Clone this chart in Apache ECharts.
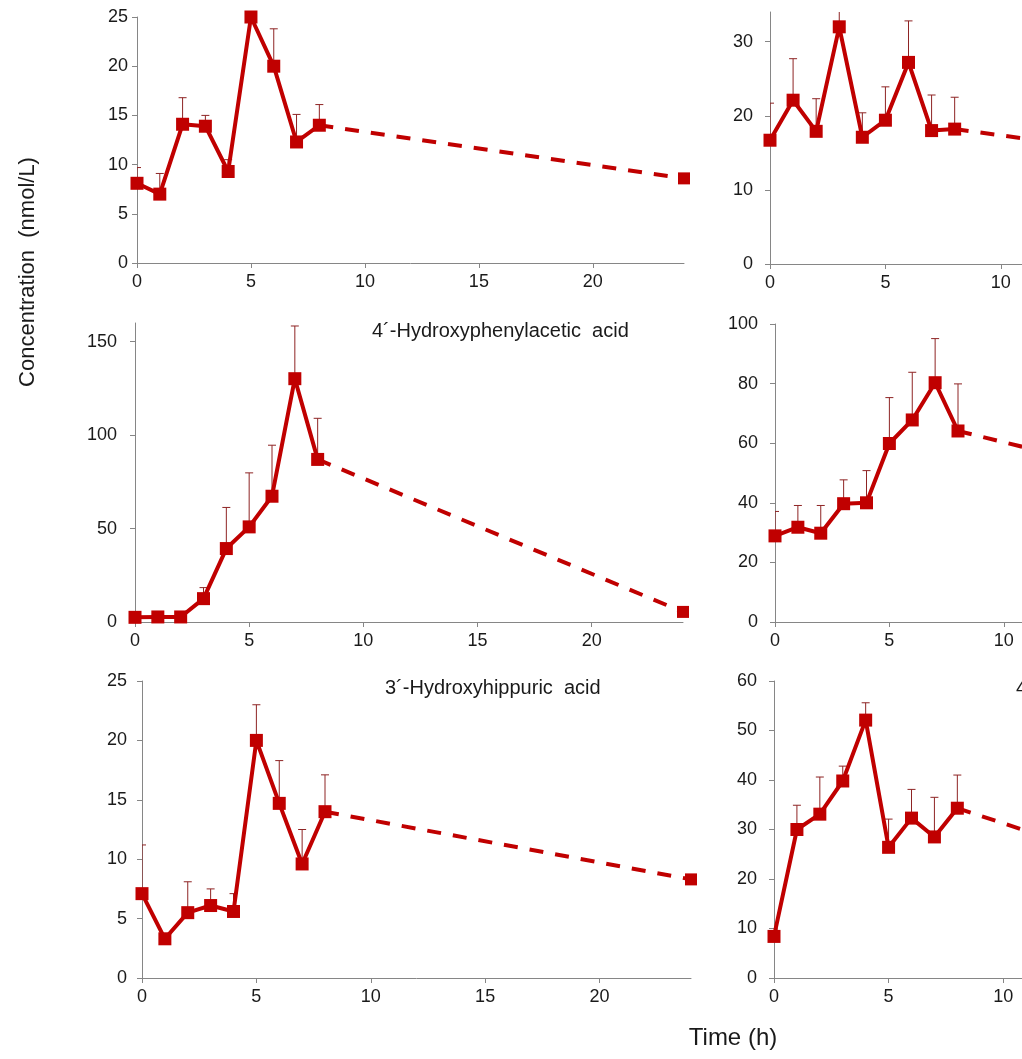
<!DOCTYPE html>
<html lang="en">
<head>
<meta charset="UTF-8">
<title>Concentration (nmol/L) vs Time (h)</title>
<style>
    html, body { margin: 0; padding: 0; background: #fff; }
    #main { width: 1022px; height: 1059px; }
</style>
</head>
<body>
<div id="main"></div>
<script src="https://cdn.jsdelivr.net/npm/echarts@6.0.0/dist/echarts.min.js"></script>
<script>
    // sampling times (h) and tick labels
    var hours = [0, 1, 2, 3, 4, 5, 6, 7, 8];
    var lastHour = 24;
    var xTicks = [0, 5, 10, 15, 20];

    // top left
    var meanTL = [8.1, 7.0, 14.1, 13.9, 9.3, 25.0, 20.0, 12.3, 14.0];
    var upperTL = [9.7, 9.1, 16.8, 15.0, 10.5, 27.0, 23.8, 15.1, 16.1];
    var lastTL = 8.6;
    var yTicksTL = [0, 5, 10, 15, 20, 25];

    // top right
    var meanTR = [16.7, 22.1, 17.9, 32.0, 17.1, 19.4, 27.2, 18.0, 18.2];
    var upperTR = [21.7, 27.7, 22.3, 36.0, 20.4, 23.9, 32.8, 22.8, 22.5];
    var lastTR = 11.5;
    var yTicksTR = [0, 10, 20, 30];

    // middle left: 4'-hydroxyphenylacetic acid
    var meanML = [2.5, 2.7, 2.7, 12.5, 39.3, 50.9, 67.3, 130.2, 87.0];
    var upperML = [2.5, 2.7, 2.7, 18.4, 61.3, 79.8, 94.6, 158.4, 109.0];
    var lastML = 5.4;
    var yTicksML = [0, 50, 100, 150];

    // middle right
    var meanMR = [28.9, 31.8, 29.8, 39.7, 40.0, 59.9, 67.8, 80.3, 64.1];
    var upperMR = [37.1, 39.1, 39.1, 47.7, 50.8, 75.3, 83.8, 95.1, 79.9];
    var lastMR = 34;
    var yTicksMR = [0, 20, 40, 60, 80, 100];

    // bottom left: 3'-hydroxyhippuric acid
    var meanBL = [7.1, 3.3, 5.5, 6.1, 5.6, 20.0, 14.7, 9.6, 14.0];
    var upperBL = [11.2, 3.3, 8.1, 7.5, 7.1, 23.0, 18.3, 12.5, 17.1];
    var lastBL = 8.3;
    var yTicksBL = [0, 5, 10, 15, 20, 25];

    // bottom right
    var meanBR = [8.4, 30.0, 33.1, 39.8, 52.1, 26.4, 32.3, 28.5, 34.3];
    var upperBR = [9.9, 34.9, 40.6, 42.8, 55.6, 32.1, 38.1, 36.5, 41.0];
    var lastBR = 10;
    var yTicksBR = [0, 10, 20, 30, 40, 50, 60];

    var titles = ['', '', '4´-Hydroxyphenylacetic  acid', '', '3´-Hydroxyhippuric  acid', '4´-Hydroxyhippuric  acid'];

    // layout of the six panels (right column runs past the edge of the page)
    var panels = [
        { mean: meanTL, upper: upperTL, last: lastTL, yTicks: yTicksTL, ymax: 25, left: 137, top: 17, width: 547, height: 246, gap: 9 },
        { mean: meanTR, upper: upperTR, last: lastTR, yTicks: yTicksTR, ymax: 34, left: 770, top: 12, width: 554, height: 252, gap: 17 },
        { mean: meanML, upper: upperML, last: lastML, yTicks: yTicksML, ymax: 160, left: 135, top: 323, width: 548, height: 299, gap: 18 },
        { mean: meanMR, upper: upperMR, last: lastMR, yTicks: yTicksMR, ymax: 100, left: 775, top: 324, width: 549, height: 298, gap: 17 },
        { mean: meanBL, upper: upperBL, last: lastBL, yTicks: yTicksBL, ymax: 25, left: 142, top: 681, width: 549, height: 297, gap: 15 },
        { mean: meanBR, upper: upperBR, last: lastBR, yTicks: yTicksBR, ymax: 60, left: 774, top: 681, width: 550, height: 297, gap: 17 }
    ];
    var titlePos = [null, null, [372, 331], null, [385, 688], [1016, 688]];

    var red = '#c00000';
    var errColor = '#8e2424';
    var axisColor = '#868686';
    var textColor = '#1a1a1a';
    var font = 'Liberation Sans, Arial, sans-serif';

    // upper error bar with a small cap
    function errorBar(params, api) {
        var p0 = api.coord([api.value(0), api.value(1)]);
        var p1 = api.coord([api.value(0), api.value(2)]);
        var cap = 4;
        return {
            type: 'group',
            children: [
                { type: 'line', shape: { x1: p0[0], y1: p0[1], x2: p1[0], y2: p1[1] }, style: { stroke: errColor, lineWidth: 1 } },
                { type: 'line', shape: { x1: p1[0] - cap, y1: p1[1], x2: p1[0] + cap, y2: p1[1] }, style: { stroke: errColor, lineWidth: 1 } }
            ]
        };
    }

    var grids = [], xAxes = [], yAxes = [], series = [], graphics = [];

    panels.forEach(function (p, i) {
        grids.push({ left: p.left, top: p.top, width: p.width, height: p.height, containLabel: false, outerBoundsMode: 'none' });
        xAxes.push({
            type: 'value', gridIndex: i, min: 0, max: lastHour,
            axisLine: { lineStyle: { color: axisColor, width: 1 } },
            axisTick: { length: 5, lineStyle: { color: axisColor }, customValues: xTicks },
            axisLabel: { customValues: xTicks, color: textColor, fontSize: 18, fontFamily: font, margin: 10 },
            splitLine: { show: false }
        });
        yAxes.push({
            type: 'value', gridIndex: i, min: 0, max: p.ymax,
            axisLine: { show: true, lineStyle: { color: axisColor, width: 1 } },
            axisTick: { show: true, length: 5, lineStyle: { color: axisColor }, customValues: p.yTicks },
            axisLabel: { customValues: p.yTicks, color: textColor, fontSize: 18, fontFamily: font, margin: p.gap },
            splitLine: { show: false }
        });

        series.push({
            type: 'custom', xAxisIndex: i, yAxisIndex: i, clip: true, z: 1,
            renderItem: errorBar,
            data: hours.map(function (h, k) { return [h, p.mean[k], p.upper[k]]; })
        });
        series.push({
            type: 'line', xAxisIndex: i, yAxisIndex: i, z: 2,
            symbol: 'rect', symbolSize: 12,
            itemStyle: { color: red },
            lineStyle: { color: red, width: 4, type: [14, 12] },
            data: [
                { value: [hours[8], p.mean[8]], symbol: 'none' },
                { value: [lastHour, p.last] }
            ]
        });
        series.push({
            type: 'line', xAxisIndex: i, yAxisIndex: i, z: 3,
            symbol: 'rect', symbolSize: 13,
            itemStyle: { color: red },
            lineStyle: { color: red, width: 4 },
            data: hours.map(function (h, k) { return [h, p.mean[k]]; })
        });

        if (titlePos[i]) {
            graphics.push({
                type: 'text', x: titlePos[i][0], y: titlePos[i][1],
                style: { text: titles[i], fill: textColor, font: '20px ' + font, verticalAlign: 'middle' }
            });
        }
    });

    graphics.push({
        type: 'text', x: 28, y: 272, rotation: Math.PI / 2,
        style: { text: 'Concentration  (nmol/L)', fill: textColor, font: '22px ' + font, align: 'center', verticalAlign: 'middle' }
    });
    graphics.push({
        type: 'text', x: 733, y: 1038,
        style: { text: 'Time (h)', fill: textColor, font: '24px ' + font, align: 'center', verticalAlign: 'middle' }
    });

    var chart = echarts.init(document.getElementById('main'), null, { renderer: 'canvas' });
    chart.setOption({
        animation: false,
        backgroundColor: '#fff',
        grid: grids,
        xAxis: xAxes,
        yAxis: yAxes,
        series: series,
        graphic: graphics
    });
</script>
</body>
</html>
